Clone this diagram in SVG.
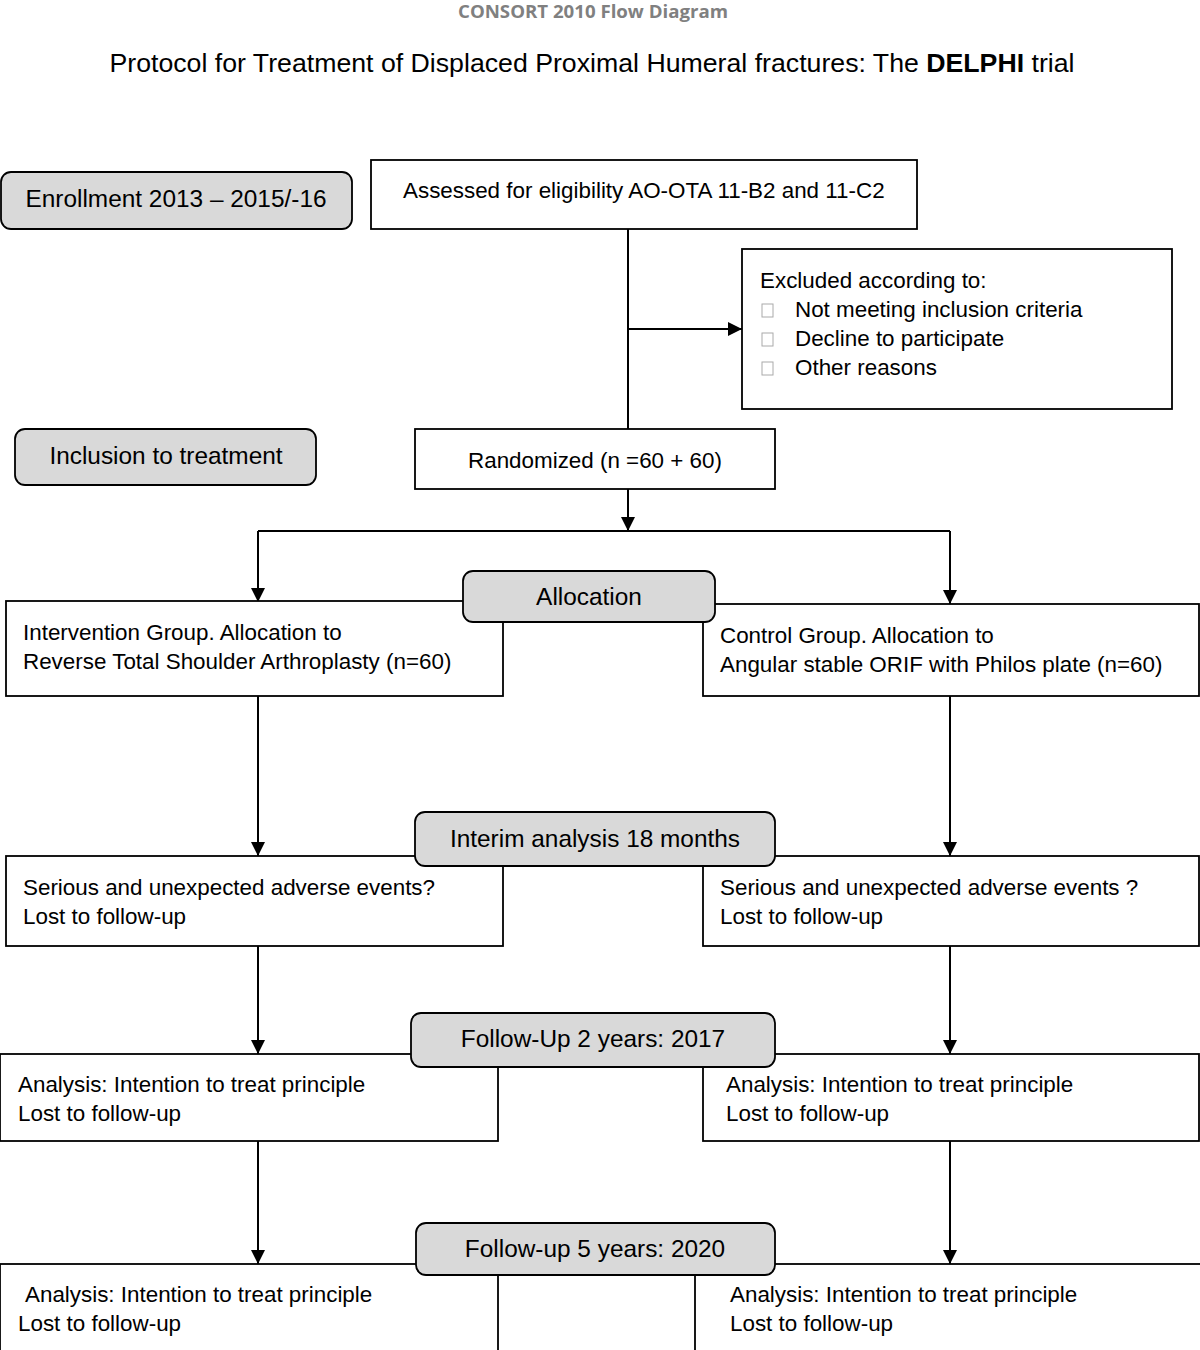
<svg xmlns="http://www.w3.org/2000/svg" width="1200" height="1350" viewBox="0 0 1200 1350">
<defs>
<marker id="arr" markerWidth="14" markerHeight="15" refX="14" refY="7.5" orient="auto" markerUnits="userSpaceOnUse">
<path d="M0,0.5 L14,7.5 L0,14.5 Z" fill="#000"/>
</marker>
<style>
.box{fill:#fff;stroke:#000;stroke-width:1.8}
.gbox{fill:#d9d9d9;stroke:#000;stroke-width:1.8}
.t{font-family:"Liberation Sans",Arial,sans-serif;font-size:22.4px;fill:#000}
.g{font-size:24.4px}
.c{text-anchor:middle}
.ln{fill:none;stroke:#000;stroke-width:2}
.cb{fill:#fff;stroke:#aaa;stroke-width:1}
</style>
</defs>
<rect width="1200" height="1350" fill="#fff"/>
<text x="593" y="18" text-anchor="middle" style="font-family:'Open Sans','Liberation Sans',sans-serif;font-weight:bold;font-size:18px;fill:#808080" textLength="270" lengthAdjust="spacingAndGlyphs">CONSORT 2010 Flow Diagram</text>
<text x="592" y="72" text-anchor="middle" style="font-family:'Liberation Sans',Arial,sans-serif;font-size:26.7px;fill:#000">Protocol for Treatment of Displaced Proximal Humeral fractures: The <tspan font-weight="bold">DELPHI</tspan> trial</text>

<g id="connectors">
<path class="ln" d="M628,229 V429"/>
<path class="ln" d="M628,329 H742" marker-end="url(#arr)"/>
<path class="ln" d="M628,489 V531" marker-end="url(#arr)"/>
<path class="ln" d="M258,531 H950"/>
<path class="ln" d="M258,531 V602" marker-end="url(#arr)"/>
<path class="ln" d="M950,531 V604" marker-end="url(#arr)"/>
<path class="ln" d="M258,696 V856" marker-end="url(#arr)"/>
<path class="ln" d="M950,696 V856" marker-end="url(#arr)"/>
<path class="ln" d="M258,946 V1054" marker-end="url(#arr)"/>
<path class="ln" d="M950,946 V1054" marker-end="url(#arr)"/>
<path class="ln" d="M258,1141 V1264" marker-end="url(#arr)"/>
<path class="ln" d="M950,1141 V1264" marker-end="url(#arr)"/>
</g>

<g id="enrollment">
<rect class="gbox" x="1" y="172" width="351" height="57" rx="10"/>
<text class="t g c" x="176" y="207">Enrollment 2013 – 2015/-16</text>
</g>
<g id="assessed">
<rect class="box" x="371" y="160" width="546" height="69"/>
<text class="t" x="403" y="198">Assessed for eligibility AO-OTA 11-B2 and 11-C2</text>
</g>
<g id="excluded">
<rect class="box" x="742" y="249" width="430" height="160"/>
<text class="t" x="760" y="288">Excluded according to:</text>
<rect class="cb" x="762" y="304" width="11" height="13"/>
<text class="t" x="795" y="317">Not meeting inclusion criteria</text>
<rect class="cb" x="762" y="333" width="11" height="13"/>
<text class="t" x="795" y="346">Decline to participate</text>
<rect class="cb" x="762" y="362" width="11" height="13"/>
<text class="t" x="795" y="375">Other reasons</text>
</g>
<g id="inclusion">
<rect class="gbox" x="15" y="429" width="301" height="56" rx="10"/>
<text class="t g c" x="166" y="464">Inclusion to treatment</text>
</g>
<g id="randomized">
<rect class="box" x="415" y="429" width="360" height="60"/>
<text class="t c" x="595" y="468">Randomized (n =60 + 60)</text>
</g>
<g id="intervention">
<rect class="box" x="6" y="601" width="497" height="95"/>
<text class="t" x="23" y="640">Intervention Group. Allocation to</text>
<text class="t" x="23" y="669">Reverse Total Shoulder Arthroplasty (n=60)</text>
</g>
<g id="control">
<rect class="box" x="703" y="604" width="496" height="92"/>
<text class="t" x="720" y="643">Control Group. Allocation to</text>
<text class="t" x="720" y="672">Angular stable ORIF with Philos plate (n=60)</text>
</g>
<g id="allocation">
<rect class="gbox" x="463" y="571" width="252" height="51" rx="10"/>
<text class="t g c" x="589" y="605">Allocation</text>
</g>
<g id="adverse-left">
<rect class="box" x="6" y="856" width="497" height="90"/>
<text class="t" x="23" y="895">Serious and unexpected adverse events?</text>
<text class="t" x="23" y="924">Lost to follow-up</text>
</g>
<g id="adverse-right">
<rect class="box" x="703" y="856" width="496" height="90"/>
<text class="t" x="720" y="895">Serious and unexpected adverse events ?</text>
<text class="t" x="720" y="924">Lost to follow-up</text>
</g>
<g id="interim">
<rect class="gbox" x="415" y="812" width="360" height="54" rx="10"/>
<text class="t g c" x="595" y="847">Interim analysis 18 months</text>
</g>
<g id="analysis2-left">
<rect class="box" x="0" y="1054" width="498" height="87"/>
<text class="t" x="18" y="1092">Analysis: Intention to treat principle</text>
<text class="t" x="18" y="1121">Lost to follow-up</text>
</g>
<g id="analysis2-right">
<rect class="box" x="703" y="1054" width="496" height="87"/>
<text class="t" x="726" y="1092">Analysis: Intention to treat principle</text>
<text class="t" x="726" y="1121">Lost to follow-up</text>
</g>
<g id="followup2">
<rect class="gbox" x="411" y="1013" width="364" height="54" rx="10"/>
<text class="t g c" x="593" y="1047">Follow-Up 2 years: 2017</text>
</g>
<g id="analysis5-left">
<rect class="box" x="0" y="1264" width="498" height="92"/>
<text class="t" x="25" y="1302">Analysis: Intention to treat principle</text>
<text class="t" x="18" y="1331">Lost to follow-up</text>
</g>
<g id="analysis5-right">
<rect class="box" x="695" y="1264" width="510" height="92"/>
<text class="t" x="730" y="1302">Analysis: Intention to treat principle</text>
<text class="t" x="730" y="1331">Lost to follow-up</text>
</g>
<g id="followup5">
<rect class="gbox" x="416" y="1223" width="359" height="52" rx="10"/>
<text class="t g c" x="595" y="1257">Follow-up 5 years: 2020</text>
</g>
</svg>
